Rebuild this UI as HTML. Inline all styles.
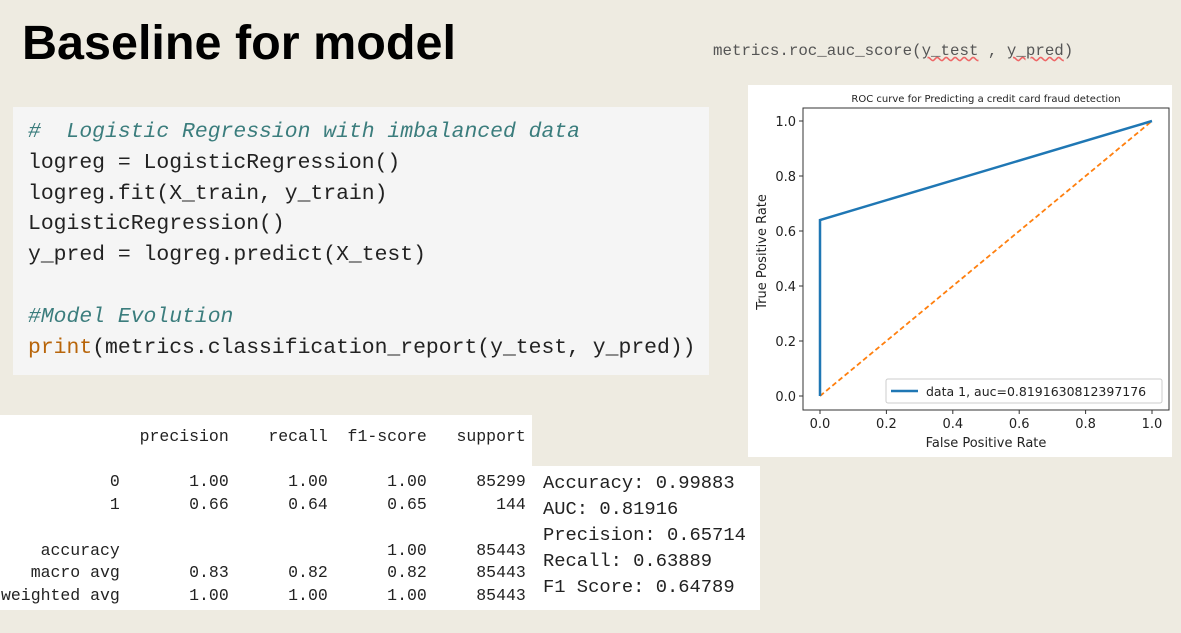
<!DOCTYPE html>
<html><head><meta charset="utf-8"><style>
body{margin:0;width:1181px;height:633px;background:#eeebe1;position:relative;overflow:hidden;font-family:"Liberation Sans",sans-serif}
.a{position:absolute;white-space:pre}
.mono{font-family:"Liberation Mono",monospace}
</style></head><body>
<div class="a" style="left:22px;top:15px;font-size:48.5px;font-weight:bold;color:#000">Baseline for model</div>
<div class="a mono" style="left:713px;top:42px;font-size:15.8px;color:#555">metrics.roc_auc_score(<span style="text-decoration:underline wavy #e66">y_test</span> , <span style="text-decoration:underline wavy #e66">y_pred</span>)</div>

<div class="a" style="left:13px;top:107px;width:696px;height:268px;background:#f5f5f5"></div>
<div class="a mono" style="left:28px;top:117px;font-size:21.4px;line-height:30.8px;color:#222"><span style="color:#3b7d7d;font-style:italic">#  Logistic Regression with imbalanced data</span>
logreg = LogisticRegression()
logreg.fit(X_train, y_train)
LogisticRegression()
y_pred = logreg.predict(X_test)

<span style="color:#3b7d7d;font-style:italic">#Model Evolution</span>
<span style="color:#b8650a">print</span>(metrics.classification_report(y_test, y_pred))</div>

<div class="a" style="left:0;top:415px;width:532px;height:195px;background:#fff"></div>
<div class="a mono" style="left:1px;top:426px;font-size:16.5px;line-height:22.7px;color:#222">              precision    recall  f1-score   support

           0       1.00      1.00      1.00     85299
           1       0.66      0.64      0.65       144

    accuracy                           1.00     85443
   macro avg       0.83      0.82      0.82     85443
weighted avg       1.00      1.00      1.00     85443</div>
<div class="a" style="left:532px;top:466px;width:228px;height:144px;background:#fff"></div>
<div class="a mono" style="left:543px;top:470px;font-size:18.8px;line-height:26px;color:#222">Accuracy: 0.99883
AUC: 0.81916
Precision: 0.65714
Recall: 0.63889
F1 Score: 0.64789</div>

<svg class="a" style="left:748px;top:85px" width="424" height="372" id="chart"></svg>
<script>
const fprVals=[0,0,1];
const tprVals=[0,0.64,1];
const diagX=[0,1];
const diagY=[0,1];
const ticks=[0,0.2,0.4,0.6,0.8,1.0];
const tickLabels=["0.0","0.2","0.4","0.6","0.8","1.0"];
const legendText="data 1, auc=0.8191630812397176";
const NS="http://www.w3.org/2000/svg";
const svg=document.getElementById('chart');
const X=v=>72+v*332, Y=v=>311-v*275;
function mk(t,a,p){const e=document.createElementNS(NS,t);for(const k in a)e.setAttribute(k,a[k]);(p||svg).appendChild(e);return e;}
mk('rect',{x:0,y:0,width:424,height:372,fill:'#fff'});
let t=mk('text',{x:238,y:17,'font-size':10,'text-anchor':'middle',fill:'#222','font-family':'DejaVu Sans'});t.textContent='ROC curve for Predicting a credit card fraud detection';

let ax=mk('rect',{x:55,y:23,width:366,height:302,fill:'none',stroke:'#333','stroke-width':1});

ticks.forEach((v,i)=>{
 mk('line',{x1:X(v),x2:X(v),y1:325,y2:329,stroke:'#333'});
 let a=mk('text',{x:X(v),y:343,'font-size':13,'text-anchor':'middle',fill:'#222','font-family':'DejaVu Sans'});a.textContent=tickLabels[i];
 
 mk('line',{x1:51,x2:55,y1:Y(v),y2:Y(v),stroke:'#333'});
 let b=mk('text',{x:48,y:Y(v)+5,'font-size':13,'text-anchor':'end',fill:'#222','font-family':'DejaVu Sans'});b.textContent=tickLabels[i];
 
});
let xl=mk('text',{x:238,y:362,'font-size':13,'text-anchor':'middle',fill:'#222','font-family':'DejaVu Sans'});xl.textContent='False Positive Rate';

let yl=mk('text',{x:0,y:0,'font-size':13,'text-anchor':'middle',fill:'#222','font-family':'DejaVu Sans',transform:'translate(18,167) rotate(-90)'});yl.textContent='True Positive Rate';

let d=mk('polyline',{points:diagX.map((v,i)=>X(v)+','+Y(diagY[i])).join(' '),fill:'none',stroke:'#ff7f0e','stroke-width':1.8,'stroke-dasharray':'5,3'});

let r=mk('polyline',{points:fprVals.map((v,i)=>X(v)+','+Y(tprVals[i])).join(' '),fill:'none',stroke:'#1f77b4','stroke-width':2.5});

let lg=mk('g',{});

mk('rect',{x:138,y:294,width:276,height:24,fill:'#fff',stroke:'#ccc',rx:2},lg);
mk('line',{x1:143,x2:170,y1:306,y2:306,stroke:'#1f77b4','stroke-width':2.5},lg);
let lt=mk('text',{x:178,y:311,'font-size':12.5,fill:'#222','font-family':'DejaVu Sans'},lg);lt.textContent=legendText;
</script>
</body></html>
